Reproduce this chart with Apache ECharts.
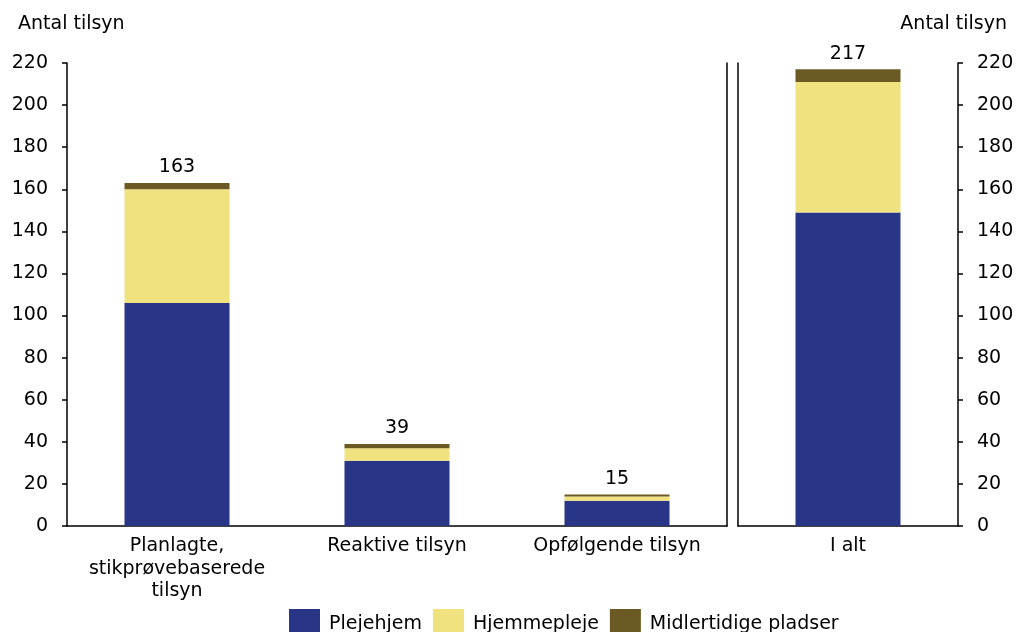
<!DOCTYPE html>
<html><head><meta charset="utf-8">
<script src="https://cdn.jsdelivr.net/npm/echarts@6/dist/echarts.min.js"></script>
<style>html,body{margin:0;padding:0;background:#fff}#c{width:1018px;height:632px}</style>
</head><body><div id="c"></div>
<script>
const categories = ['Planlagte,\nstikprøvebaserede\ntilsyn', 'Reaktive tilsyn', 'Opfølgende tilsyn'];
const totalCategory = ['I alt'];
const seriesNames = ['Plejehjem', 'Hjemmepleje', 'Midlertidige pladser'];
const plejehjem = [106, 31, 12];
const hjemmepleje = [54, 6, 2];
const midlertidige = [3, 2, 1];
const plejehjemTotal = [149];
const hjemmeplejeTotal = [62];
const midlertidigeTotal = [6];
const yTicks = [0, 20, 40, 60, 80, 100, 120, 140, 160, 180, 200, 220];
const axisTitle = 'Antal tilsyn';

const colors = ['#293587', '#EFE27F', '#6C5A24'];
const FONT = 'DejaVu Sans';
const totals = plejehjem.map((v, i) => v + hjemmepleje[i] + midlertidige[i]);
const totalsAll = [plejehjemTotal[0] + hjemmeplejeTotal[0] + midlertidigeTotal[0]];

const txt = {color: '#000', fontFamily: FONT, fontSize: 19};
const line = {show: true, lineStyle: {color: '#000', width: 1.5}};

function yAx(gridIndex, position, showLabels, showTicks) {
  return {
    type: 'value', gridIndex, position, min: yTicks[0], max: yTicks[yTicks.length - 1], interval: 20,
    axisLine: line, splitLine: {show: false},
    axisTick: {show: showTicks, length: 5, inside: false, lineStyle: {color: '#000', width: 1.5}},
    axisLabel: {show: showLabels, margin: 19, padding: [4, 0, 0, 0], ...txt}
  };
}
function xAx(gridIndex, data) {
  return {
    type: 'category', gridIndex, data, axisLine: line, axisTick: {show: false},
    axisLabel: {margin: 9, lineHeight: 22.5, interval: 0, ...txt}
  };
}
function bar(name, data, color, xi, yi, label) {
  const s = {name, type: 'bar', stack: 's' + xi, data, xAxisIndex: xi, yAxisIndex: yi,
    barWidth: 105, itemStyle: {color}, emphasis: {disabled: true}};
  if (label) s.label = {show: true, position: 'top', distance: 6, ...txt, formatter: p => label[p.dataIndex]};
  return s;
}

const chart = echarts.init(document.getElementById('c'));
chart.setOption({
  animation: false,
  textStyle: {fontFamily: FONT},
  title: [
    {text: axisTitle, left: 13, top: 10, textStyle: {...txt, fontWeight: 'normal'}},
    {text: axisTitle, right: 6, top: 10, textStyle: {...txt, fontWeight: 'normal'}}
  ],
  legend: {
    top: 609, left: 289, itemWidth: 31, itemHeight: 31, itemGap: 11, padding: 0,
    icon: 'rect', textStyle: {...txt, padding: [0, 0, 0, 4]}, data: seriesNames, selectedMode: false
  },
  grid: [
    {left: 67, top: 63, width: 660, height: 463, containLabel: false},
    {left: 738, top: 63, width: 220, height: 463, containLabel: false}
  ],
  xAxis: [xAx(0, categories), xAx(1, totalCategory)],
  yAxis: [
    yAx(0, 'left', true, true),
    yAx(0, 'right', false, false),
    yAx(1, 'right', true, true),
    yAx(1, 'left', false, false)
  ],
  series: [
    bar(seriesNames[0], plejehjem, colors[0], 0, 0),
    bar(seriesNames[1], hjemmepleje, colors[1], 0, 0),
    bar(seriesNames[2], midlertidige, colors[2], 0, 0, totals),
    bar(seriesNames[0], plejehjemTotal, colors[0], 1, 2),
    bar(seriesNames[1], hjemmeplejeTotal, colors[1], 1, 2),
    bar(seriesNames[2], midlertidigeTotal, colors[2], 1, 2, totalsAll)
  ]
});
</script></body></html>
